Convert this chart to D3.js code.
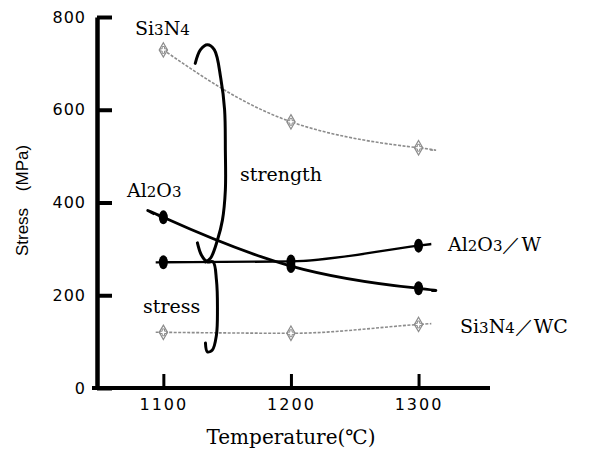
<!DOCTYPE html>
<html>
<head>
<meta charset="utf-8">
<script src="https://cdn.jsdelivr.net/npm/d3@7"></script>
<style>
  body { margin: 0; background: #fff; }
  svg { display: block; }
</style>
</head>
<body>
<div id="chart"></div>
<script>
const width = 590, height = 454;

// temperatures (°C) and stress values (MPa)
const temps = [1100, 1200, 1300];
const si3n4 = [729, 574, 518];
const al2o3 = [368, 263, 215];
const al2o3W = [271, 273, 307];
const si3n4WC = [120, 118, 137];

const xTicks = [1100, 1200, 1300];
const yTicks = [0, 200, 400, 600, 800];

// hand drawn bracket, in (temperature, stress) units
const bracketTop = [[1125, 700], [1129, 729], [1134.5, 740], [1140, 729], [1145, 668], [1148, 600],
    [1148.6, 513], [1148.6, 427], [1146.3, 362], [1142.4, 319], [1137, 280], [1133, 272]];
const bracketBottom = [[1126.7, 313], [1129.8, 287], [1134.5, 272], [1139, 272], [1141.6, 233],
    [1142.4, 168], [1141.6, 114], [1138.4, 82], [1134.5, 78], [1133, 97]];

const svg = d3.select("#chart")
    .append("svg")
    .attr("width", width)
    .attr("height", height);

let xScale = d3.scaleLinear().domain([1048, 1356]).range([97, 490]);
let yScale = d3.scaleLinear().domain([0, 800]).range([388, 17]);

// axes
let xAxis = svg.append("g")
    .attr("transform", `translate(0,${yScale(0)})`)
    .call(d3.axisBottom(xScale).tickValues(xTicks).tickFormat(d3.format("d"))
        .tickSizeInner(-14).tickSizeOuter(0).tickPadding(11));
xAxis.select(".domain").attr("stroke-width", 4).attr("d", `M92,0H${xScale.range()[1]}`);
xAxis.selectAll(".tick line").attr("stroke-width", 3);
xAxis.selectAll(".tick text")
    .style("font-family", "DejaVu Sans")
    .style("font-size", "16px")
    .style("letter-spacing", "2px");

let yAxis = svg.append("g")
    .attr("transform", `translate(${xScale(1048)},0)`)
    .call(d3.axisLeft(yScale).tickValues(yTicks).tickFormat(d3.format("d"))
        .tickSizeInner(-15).tickSizeOuter(0).tickPadding(11));
yAxis.select(".domain").attr("stroke-width", 4.5);
yAxis.selectAll(".tick line").attr("stroke-width", 4);
yAxis.selectAll(".tick text")
    .style("font-family", "DejaVu Sans")
    .style("font-size", "16px")
    .style("letter-spacing", "1px");

// axis titles
svg.append("text")
    .attr("x", 291).attr("y", 444)
    .attr("text-anchor", "middle")
    .style("font-family", "DejaVu Serif")
    .style("font-size", "20px")
    .text("Temperature(℃)");
svg.append("text")
    .attr("transform", "translate(28,232) rotate(-90)")
    .attr("text-anchor", "middle")
    .style("font-family", "Liberation Sans")
    .style("font-size", "17px")
    .text("Stress");
svg.append("text")
    .attr("transform", "translate(28,168) rotate(-90)")
    .attr("text-anchor", "middle")
    .style("font-family", "Liberation Sans")
    .style("font-size", "17px")
    .text("(MPa)");

// series
function drawSeries(values, opt) {
    let pts = temps.map((t, i) => [t, values[i]]);
    // short stubs of line beyond the first and last points
    let n = pts.length;
    let sL = (pts[1][1] - pts[0][1]) / (pts[1][0] - pts[0][0]);
    let sR = (pts[n - 1][1] - pts[n - 2][1]) / (pts[n - 1][0] - pts[n - 2][0]);
    let path = pts.slice();
    if (opt.extL) path.unshift([pts[0][0] - opt.extL, pts[0][1] - sL * opt.extL]);
    if (opt.extR) path.push([pts[n - 1][0] + opt.extR, pts[n - 1][1] + sR * opt.extR]);

    let line = d3.line()
        .x(d => xScale(d[0]))
        .y(d => yScale(d[1]))
        .curve(opt.curve || d3.curveMonotoneX);

    svg.append("path")
        .datum(path)
        .attr("fill", "none")
        .attr("stroke", opt.color)
        .attr("stroke-width", opt.lw)
        .attr("stroke-dasharray", opt.dash || null)
        .attr("d", line);

    if (opt.marker === "oval") {
        svg.selectAll(null)
            .data(pts)
            .join("ellipse")
            .attr("cx", d => xScale(d[0]))
            .attr("cy", d => yScale(d[1]))
            .attr("rx", 4.5)
            .attr("ry", 7)
            .attr("fill", opt.color);
    } else {
        let g = svg.selectAll(null)
            .data(pts)
            .join("g")
            .attr("transform", d => `translate(${xScale(d[0])},${yScale(d[1])})`);
        g.append("path")
            .attr("d", d3.symbol(d3.symbolDiamond, 60))
            .attr("fill", "#fff")
            .attr("stroke", opt.color)
            .attr("stroke-width", 1.2);
        g.append("path")
            .attr("d", d3.symbol(d3.symbolCross, 26))
            .attr("fill", "none")
            .attr("stroke", opt.color)
            .attr("stroke-width", 1);
    }
}

drawSeries(si3n4, {color: "#8c8c8c", lw: 1.6, dash: "3,1.5", marker: "diamond", extL: 0, extR: 8, curve: d3.curveNatural});
drawSeries(si3n4WC, {color: "#8c8c8c", lw: 1.6, dash: "3,1.5", marker: "diamond", extL: 6, extR: 10});
drawSeries(al2o3W, {color: "#000", lw: 2.4, marker: "oval", extL: 6, extR: 10});
drawSeries(al2o3, {color: "#000", lw: 2.8, marker: "oval", extL: 7, extR: 10, curve: d3.curveNatural});

// bracket
let bLine = d3.line()
    .x(d => xScale(d[0]))
    .y(d => yScale(d[1]))
    .curve(d3.curveCatmullRom);
[bracketTop, bracketBottom].forEach(b => {
    svg.append("path")
        .datum(b)
        .attr("fill", "none")
        .attr("stroke", "#000")
        .attr("stroke-width", 3)
        .attr("stroke-linecap", "round")
        .attr("d", bLine);
});

// labels, digits set smaller like the original
function label(x, y, str) {
    let t = svg.append("text")
        .attr("x", x).attr("y", y)
        .style("font-family", "DejaVu Serif")
        .style("font-size", "19px");
    str.match(/\d+|\D+/g).forEach(part => {
        t.append("tspan")
            .style("font-size", /\d/.test(part) ? "15px" : null)
            .text(part);
    });
}

label(135, 35, "Si3N4");
label(127, 197, "Al2O3");
label(240, 181, "strength");
label(143, 313, "stress");
label(448, 251, "Al2O3／W");
label(460, 333, "Si3N4／WC");
</script>
</body>
</html>
